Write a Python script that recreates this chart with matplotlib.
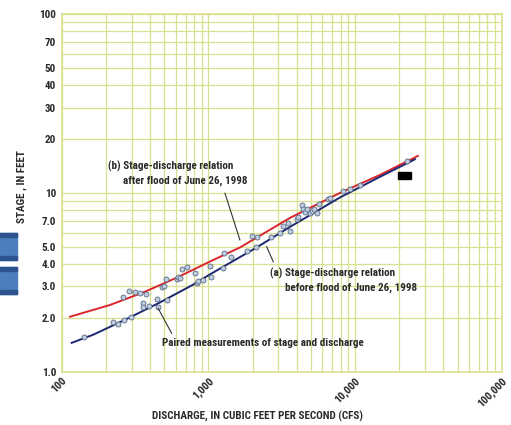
import matplotlib
matplotlib.use('Agg')
import matplotlib.pyplot as plt
from matplotlib.patches import Rectangle
from matplotlib.ticker import FixedLocator, NullFormatter, LogLocator

# stage-discharge relation after flood (b), red
after_q = [114, 213, 358, 611, 1025, 1642, 3598, 7888, 14790, 26850]
after_s = [2.03, 2.36, 2.77, 3.36, 4.13, 4.95, 7.24, 9.99, 12.6, 16.1]

# stage-discharge relation before flood (a), blue
before_q = [117, 164, 277, 468, 789, 1025, 2134, 3598, 7888, 14790, 25600]
before_s = [1.45, 1.61, 1.97, 2.44, 3.07, 3.50, 4.95, 6.45, 9.42, 12.3, 15.4]

# paired measurements
meas_q = [143, 223, 243, 266, 295, 260, 289, 316, 342, 376, 360, 357, 396, 448,
          456, 481, 500, 512, 520, 608, 624, 640, 658, 711, 810, 832, 853, 914,
          1025, 1037, 1252, 1283, 1419, 1824, 1973, 2134, 2111, 2672, 3076, 3210,
          3598, 3506, 4000, 4102, 4325, 4436, 4556, 4928, 5060, 5248, 5473, 5702,
          6566, 6745, 8315, 9230, 10800, 22480, 4677]
meas_s = [1.57, 1.90, 1.84, 1.95, 2.03, 2.63, 2.84, 2.80, 2.77, 2.71, 2.41, 2.31,
          2.33, 2.55, 2.29, 2.99, 3.02, 3.30, 2.52, 3.30, 3.37, 3.34, 3.74, 3.84,
          3.55, 3.12, 3.22, 3.26, 3.90, 3.40, 3.82, 4.59, 4.40, 4.75, 5.74, 5.69,
          5.00, 5.69, 5.99, 6.53, 6.12, 6.76, 7.12, 7.36, 8.56, 8.10, 7.85, 7.69,
          7.92, 8.10, 7.69, 8.67, 9.21, 9.33, 10.2, 10.5, 11.1, 15.1, 8.16]

x_ticks = [100, 1000, 10000, 100000]
x_labels = ['100', '1,000', '10,000', '100,000']
y_ticks = [1, 2, 3, 4, 5, 7, 10, 20, 30, 40, 50, 70, 100]
y_labels = ['1.0', '2.0', '3.0', '4.0', '5.0', '7.0', '10', '20', '30', '40', '50', '70', '100']
y_minor = [6, 8, 9, 60, 80, 90]

plt.rcParams['font.family'] = ['Roboto Condensed', 'DejaVu Sans']
plt.rcParams['font.weight'] = 'bold'

grid_color = '#dbe08c'
red = '#d9262c'
navy = '#1c2870'
txt = '#2a2a2a'

fig = plt.figure(figsize=(5.11, 4.25), dpi=100)
ax = fig.add_axes([0.1207, 0.1254, 0.8611, 0.8416])
ax.set_xscale('log')
ax.set_yscale('log')
ax.set_xlim(100, 100000)
ax.set_ylim(1, 100)

ax.xaxis.set_major_locator(FixedLocator(x_ticks))
ax.xaxis.set_minor_locator(LogLocator(base=10, subs=range(2, 10)))
ax.xaxis.set_minor_formatter(NullFormatter())
ax.set_xticklabels(x_labels, rotation=45, ha='right', va='top', rotation_mode='anchor')
ax.yaxis.set_major_locator(FixedLocator(y_ticks))
ax.yaxis.set_minor_locator(FixedLocator(y_minor))
ax.yaxis.set_minor_formatter(NullFormatter())
ax.set_yticklabels(y_labels)
ax.tick_params(which='both', length=0, labelsize=8, labelcolor=txt)
ax.tick_params(axis='y', pad=4)
ax.tick_params(axis='x', pad=3)

ax.grid(which='both', color=grid_color, lw=0.9)
ax.set_axisbelow(True)
for sp in ax.spines.values():
    sp.set_color(grid_color)
    sp.set_linewidth(1.2)

ax.plot(after_q, after_s, color=red, lw=1.4, zorder=3)
ax.plot(before_q, before_s, color=navy, lw=1.4, zorder=3)
ax.plot(meas_q, meas_s, 'o', ms=3.6, mfc='#bfcde0', mec='#5b6b85', mew=0.6, zorder=4)

# annotations
fs = 8
ax.text(208, 14.1, '(b) Stage-discharge relation', fontsize=fs, color=txt, va='center')
ax.text(263, 11.7, 'after flood of June 26, 1998', fontsize=fs, color=txt, va='center')
ax.plot([1298, 1642], [9.95, 5.45], color='#333333', lw=0.8, zorder=5)

ax.text(2630, 3.56, '(a) Stage-discharge relation', fontsize=fs, color=txt, va='center')
ax.text(3327, 2.95, 'before flood of June 26, 1998', fontsize=fs, color=txt, va='center')
ax.plot([2497, 2770], [5.00, 4.12], color='#333333', lw=0.8, zorder=5)

ax.text(480, 1.44, 'Paired measurements of stage and discharge', fontsize=fs, color=txt, va='center')
ax.plot([455, 562], [2.26, 1.64], color='#333333', lw=0.8, zorder=5)

fig.text(0.042, 0.56, 'STAGE , IN FEET', rotation=90, fontsize=8, color=txt,
         ha='center', va='center')
fig.text(0.503, 0.02, 'DISCHARGE, IN CUBIC FEET PER SECOND (CFS)', fontsize=8,
         color=txt, ha='center', va='center')

# screenshot artefacts: blue tabs at left, black box
W, H = 511.0, 425.0
for top in (233, 267):
    fig.patches.append(Rectangle((0, 1 - (top + 27) / H), 17 / W, 27 / H,
                                 transform=fig.transFigure, color='#4d7dbf', zorder=0))
    fig.patches.append(Rectangle((0, 1 - (top + 4) / H), 17 / W, 4 / H,
                                 transform=fig.transFigure, color='#2c5290', zorder=0))
    fig.patches.append(Rectangle((0, 1 - (top + 27) / H), 17 / W, 4 / H,
                                 transform=fig.transFigure, color='#2c5290', zorder=0))
fig.patches.append(Rectangle((398 / W, 1 - 179 / H), 13 / W, 7 / H,
                             transform=fig.transFigure, color='black', zorder=10))

fig.savefig('out.png', dpi=100)
